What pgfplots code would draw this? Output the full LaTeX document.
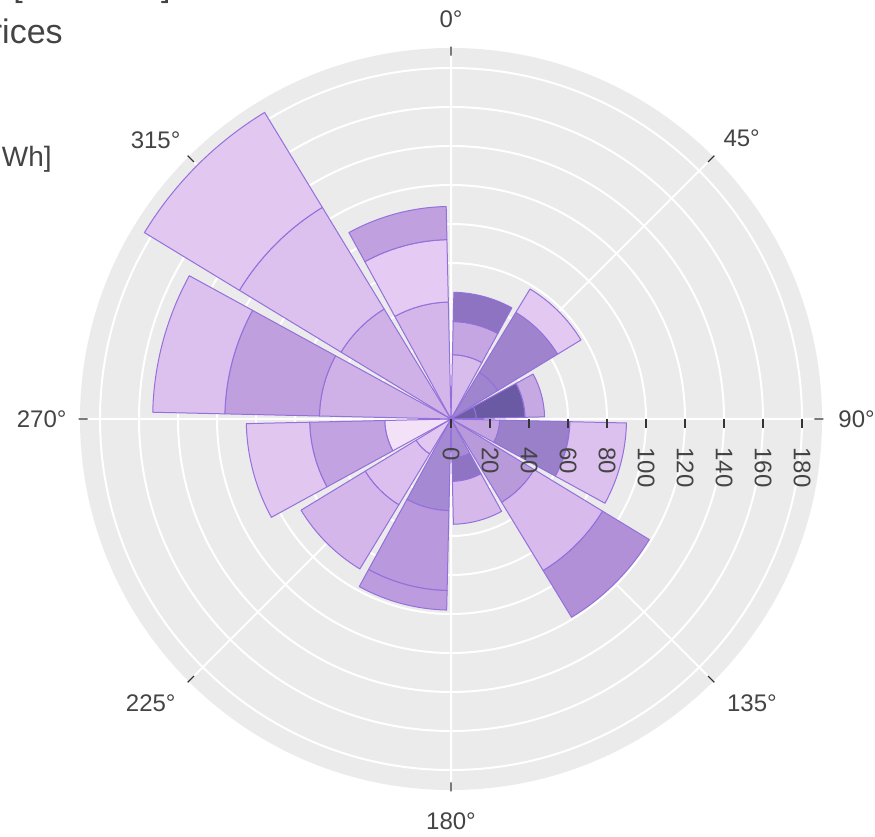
\documentclass[border=0pt]{standalone}
\usepackage{pgfplots}
\pgfplotsset{compat=1.18}
\usepackage{pgfplotstable}
\usepgfplotslibrary{polar}
\usetikzlibrary{calc}
\usepackage{fontspec}
\setmainfont{Liberation Sans}
\pgfplotsset{layers/rose/.define layer set={axis background,axis grid,pre main,main,axis ticks,axis lines,axis tick labels,axis descriptions,axis foreground}{}}
\definecolor{bgdisk}{HTML}{EBEBEB}
\definecolor{txt}{HTML}{444444}
\definecolor{tickc}{HTML}{333333}
\definecolor{edgecol}{HTML}{9370DB}
% segment colours: row index, a = inner, b = middle, c = outer
\definecolor{c0a}{HTML}{D8BCEC}\definecolor{c0b}{HTML}{C5A6E2}\definecolor{c0c}{HTML}{8D73C1}
\definecolor{c1a}{HTML}{9F85CD}\definecolor{c1b}{HTML}{A083CD}\definecolor{c1c}{HTML}{E3C9F1}
\definecolor{c2a}{HTML}{6E5DA6}\definecolor{c2b}{HTML}{6A5AA3}\definecolor{c2c}{HTML}{C6A8E3}
\definecolor{c3a}{HTML}{C4A5E2}\definecolor{c3b}{HTML}{9A7FC9}\definecolor{c3c}{HTML}{DCC0EE}
\definecolor{c4a}{HTML}{B89ADB}\definecolor{c4b}{HTML}{D8BAEC}\definecolor{c4c}{HTML}{B190D8}
\definecolor{c5a}{HTML}{A88CD3}\definecolor{c5b}{HTML}{8E74C2}\definecolor{c5c}{HTML}{D6B8EA}
\definecolor{c6a}{HTML}{A689D3}\definecolor{c6b}{HTML}{B998DD}\definecolor{c6c}{HTML}{BC9BDF}
\definecolor{c7a}{HTML}{E2C7F0}\definecolor{c7b}{HTML}{DCBFEE}\definecolor{c7c}{HTML}{D5B6EA}
\definecolor{c8a}{HTML}{F3E2F7}\definecolor{c8b}{HTML}{C2A2E0}\definecolor{c8c}{HTML}{E1C6F0}
\definecolor{c9a}{HTML}{CFB1E8}\definecolor{c9b}{HTML}{C09FDF}\definecolor{c9c}{HTML}{DCC0EE}
\definecolor{c10a}{HTML}{CFB1E8}\definecolor{c10b}{HTML}{DCC0EE}\definecolor{c10c}{HTML}{E2C7F1}
\definecolor{c11a}{HTML}{D4B6EA}\definecolor{c11b}{HTML}{E5CAF3}\definecolor{c11c}{HTML}{C0A0DF}

% direction (deg, clockwise from north) and cumulative stack tops
\pgfplotstableread{
dir r1 r2 r3
15 33 50 65
45 28 64 78
75 13 38 48
105 25 61 90
135 50 91 119
165 20 32 54
195 47 88 98
225 21 51.5 90
255 34 72.5 105
285 67.5 116 153
315 66 127 184
345 60 92 109
}\rosedata

\def\hw{13.7}
% #1 colour, #2 direction, #3 inner radius, #4 outer radius
\newcommand\sector[4]{%
  \fill[fill=#1, draw=edgecol, line width=0.6pt, line join=round]
    let \p1=(axis cs:0,0), \p2=(axis cs:0,#3), \p3=(axis cs:0,#4),
        \n1={veclen(\x2-\x1,\y2-\y1)}, \n2={veclen(\x3-\x1,\y3-\y1)}
    in (axis cs:{90-(#2)+\hw},#3) -- (axis cs:{90-(#2)+\hw},#4)
       arc[start angle={90-(#2)+\hw}, end angle={90-(#2)-\hw}, radius=\n2]
       -- (axis cs:{90-(#2)-\hw},#3)
       arc[start angle={90-(#2)-\hw}, end angle={90-(#2)+\hw}, radius=\n1]
       -- cycle;
}
\tikzset{alab/.style={font=\fontsize{14.4}{17}\selectfont, text=txt, inner sep=0pt}}

\begin{document}
\begin{tikzpicture}
\begin{polaraxis}[
  set layers=rose,
  width=446.94pt, height=446.94pt, scale only axis,
  xmin=0, xmax=360, ymin=0, ymax=191,
  clip=false,
  xtick={0,45,...,315},
  xticklabel={\mbox{}},
  ytick={0,20,...,180},
  yticklabel={\mbox{}},
  xmajorgrids, ymajorgrids,
  grid style={white, line width=1.2pt},
  axis line style={draw=none},
  tick align=outside,
  major tick length=5.4pt,
  tick style={draw=tickc, line width=0.8pt},
]
\coordinate (ctr) at (axis cs:0,0);
\begin{pgfonlayer}{axis background}
\fill[bgdisk] let \p1=(axis cs:0,0), \p2=(axis cs:0,190.26), \n1={veclen(\x2-\x1,\y2-\y1)}
  in (\p1) circle[radius=\n1];
\end{pgfonlayer}
\pgfplotsinvokeforeach{0,...,11}{
  \pgfplotstablegetelem{#1}{dir}\of\rosedata
  \expandafter\xdef\csname rd#1\endcsname{\pgfplotsretval}
  \pgfplotstablegetelem{#1}{r1}\of\rosedata
  \expandafter\xdef\csname ra#1\endcsname{\pgfplotsretval}
  \pgfplotstablegetelem{#1}{r2}\of\rosedata
  \expandafter\xdef\csname rb#1\endcsname{\pgfplotsretval}
  \pgfplotstablegetelem{#1}{r3}\of\rosedata
  \expandafter\xdef\csname rc#1\endcsname{\pgfplotsretval}
  \begin{pgfonlayer}{main}
  \sector{c#1a}{\csname rd#1\endcsname}{0}{\csname ra#1\endcsname}
  \sector{c#1b}{\csname rd#1\endcsname}{\csname ra#1\endcsname}{\csname rb#1\endcsname}
  \sector{c#1c}{\csname rd#1\endcsname}{\csname rb#1\endcsname}{\csname rc#1\endcsname}
  \end{pgfonlayer}
}
% radial axis ticks and labels, on top of the bars
\pgfplotsinvokeforeach{0,20,...,180}{
  \begin{pgfonlayer}{axis foreground}
  \draw[tickc, line width=0.8pt] (axis cs:0,#1) -- ++(0pt,-5.4pt);
  \node[font=\fontsize{14.4}{17}\selectfont, text=txt, rotate=-90, anchor=west,
        inner sep=0pt, text height=1em] at ($(axis cs:0,#1)+(0pt,-16.8pt)$) {#1};
  \end{pgfonlayer}
}
\node[alab, anchor=south] at (axis cs:90,200.5) {0°};
\node[alab, anchor=south west] at (axis cs:45,197.4) {45°};
\node[alab, anchor=west] at (axis cs:0,198.5) {90°};
\node[alab, anchor=north west] at (axis cs:-45,200) {135°};
\node[alab, anchor=north] at (axis cs:-90,201.5) {180°};
\node[alab, anchor=north east] at (axis cs:-135,199.5) {225°};
\node[alab, anchor=east] at (axis cs:180,197) {270°};
\node[alab, anchor=south east] at (axis cs:135,196) {315°};
\end{polaraxis}
\begin{scope}[shift={(ctr)}, x=0.6pt, y=0.6pt]
\node[anchor=base west, font=\fontsize{20.4}{24}\selectfont, text=txt, inner sep=0] at (-438,422) {[};
\node[anchor=base east, font=\fontsize{20.4}{24}\selectfont, text=txt, inner sep=0] at (-280,422) {]};
\node[anchor=base east, font=\fontsize{20.4}{24}\selectfont, text=txt, inner sep=0] at (-388,375) {rices};
\node[anchor=base east, font=\fontsize{16.8}{20}\selectfont, text=txt, inner sep=0] at (-399,252) {Wh]};
\pgfresetboundingbox
\path[use as bounding box] (-451,-417) rectangle (424,419);
\end{scope}
\end{tikzpicture}
\end{document}
